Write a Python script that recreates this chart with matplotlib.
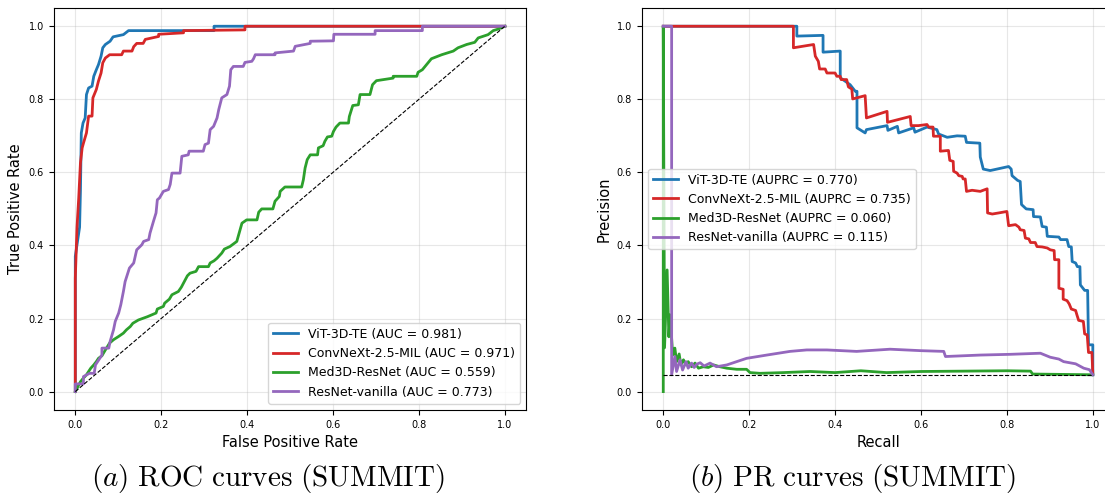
import matplotlib
matplotlib.use("Agg")
import matplotlib.pyplot as plt

plt.rcParams['mathtext.fontset'] = 'cm'

# ROC curves (fpr, tpr)
vit_fpr = [0, 0, 0.01, 0.012, 0.014, 0.018, 0.023, 0.026, 0.031, 0.039, 0.043, 0.049, 0.054,
           0.06, 0.064, 0.07, 0.081, 0.088, 0.112, 0.124, 0.323, 0.323, 1.0]
vit_tpr = [0, 0.37, 0.45, 0.55, 0.708, 0.735, 0.749, 0.813, 0.831, 0.836, 0.863, 0.881, 0.895,
           0.918, 0.941, 0.95, 0.959, 0.971, 0.977, 0.988, 0.988, 1.0, 1.0]

cnx_fpr = [0, 0, 0.004, 0.008, 0.012, 0.016, 0.019, 0.026, 0.031, 0.039, 0.041, 0.049, 0.054,
           0.06, 0.064, 0.07, 0.08, 0.108, 0.112, 0.132, 0.136, 0.143, 0.158, 0.163, 0.194,
           0.194, 0.252, 0.252, 0.395, 0.395, 1.0]
cnx_tpr = [0, 0.31, 0.45, 0.53, 0.626, 0.667, 0.68, 0.708, 0.754, 0.754, 0.804, 0.827, 0.85,
           0.872, 0.9, 0.913, 0.922, 0.922, 0.932, 0.932, 0.944, 0.953, 0.953, 0.964, 0.972,
           0.978, 0.982, 0.988, 0.99, 1.0, 1.0]

med_fpr = [0, 0.012, 0.019, 0.026, 0.036, 0.043, 0.049, 0.054, 0.062, 0.07, 0.08, 0.089, 0.101,
           0.112, 0.119, 0.128, 0.134, 0.147, 0.168, 0.188, 0.191, 0.205, 0.208, 0.219, 0.225,
           0.24, 0.247, 0.256, 0.261, 0.267, 0.281, 0.287, 0.31, 0.314, 0.323, 0.33, 0.341,
           0.347, 0.36, 0.376, 0.388, 0.399, 0.423, 0.427, 0.434, 0.46, 0.465, 0.475, 0.477,
           0.488, 0.527, 0.531, 0.535, 0.54, 0.547, 0.564, 0.566, 0.577, 0.581, 0.587, 0.597,
           0.601, 0.607, 0.616, 0.636, 0.638, 0.646, 0.659, 0.663, 0.686, 0.692, 0.701, 0.74,
           0.74, 0.795, 0.798, 0.808, 0.822, 0.829, 0.853, 0.88, 0.891, 0.911, 0.93, 0.938,
           0.961, 0.973, 0.984, 1.0]
med_tpr = [0, 0.027, 0.037, 0.046, 0.064, 0.073, 0.082, 0.091, 0.098, 0.114, 0.133, 0.142, 0.151,
           0.16, 0.169, 0.178, 0.187, 0.196, 0.205, 0.215, 0.226, 0.233, 0.242, 0.253, 0.265,
           0.274, 0.286, 0.306, 0.317, 0.324, 0.329, 0.342, 0.342, 0.352, 0.358, 0.365, 0.379,
           0.39, 0.397, 0.411, 0.461, 0.47, 0.47, 0.491, 0.5, 0.5, 0.521, 0.534, 0.548,
           0.56, 0.56, 0.58, 0.612, 0.635, 0.648, 0.648, 0.667, 0.673, 0.685, 0.697, 0.699,
           0.712, 0.724, 0.735, 0.735, 0.753, 0.783, 0.785, 0.813, 0.813, 0.84, 0.851, 0.858,
           0.863, 0.863, 0.874, 0.881, 0.901, 0.911, 0.922, 0.932, 0.941, 0.95, 0.956, 0.968,
           0.977, 0.988, 0.992, 1.0]

res_fpr = [0, 0, 0.019, 0.019, 0.033, 0.044, 0.047, 0.062, 0.062, 0.078, 0.081, 0.089, 0.093,
           0.101, 0.106, 0.112, 0.116, 0.126, 0.136, 0.143, 0.155, 0.159, 0.171, 0.174, 0.182,
           0.188, 0.191, 0.196, 0.205, 0.217, 0.221, 0.225, 0.244, 0.248, 0.263, 0.265, 0.298,
           0.302, 0.31, 0.314, 0.322, 0.33, 0.334, 0.341, 0.353, 0.359, 0.362, 0.368, 0.391,
           0.395, 0.411, 0.415, 0.419, 0.465, 0.465, 0.508, 0.512, 0.547, 0.547, 0.601, 0.602,
           0.698, 0.698, 0.808, 0.808, 1.0]
res_tpr = [0, 0.021, 0.021, 0.041, 0.05, 0.05, 0.073, 0.1, 0.119, 0.119, 0.137, 0.169, 0.192,
           0.215, 0.238, 0.274, 0.301, 0.338, 0.352, 0.388, 0.402, 0.411, 0.416, 0.434, 0.466,
           0.489, 0.525, 0.53, 0.548, 0.553, 0.567, 0.598, 0.598, 0.644, 0.648, 0.658, 0.658,
           0.676, 0.68, 0.717, 0.726, 0.749, 0.772, 0.804, 0.813, 0.836, 0.881, 0.89, 0.89,
           0.901, 0.904, 0.911, 0.922, 0.922, 0.927, 0.932, 0.945, 0.953, 0.959, 0.96, 0.978,
           0.978, 0.988, 0.988, 1.0, 1.0]

# PR curves (recall, precision)
vit_rec = [0, 0.311, 0.311, 0.372, 0.372, 0.412, 0.412, 0.435, 0.447, 0.451, 0.451, 0.47, 0.473,
           0.521, 0.523, 0.545, 0.548, 0.583, 0.586, 0.614, 0.637, 0.641, 0.661, 0.684, 0.703,
           0.706, 0.737, 0.738, 0.745, 0.761, 0.769, 0.804, 0.81, 0.812, 0.825, 0.831, 0.834,
           0.845, 0.861, 0.862, 0.878, 0.882, 0.892, 0.894, 0.921, 0.925, 0.94, 0.944, 0.95,
           0.952, 0.96, 0.964, 0.97, 0.971, 0.981, 0.988, 0.99, 1.0, 1.0]
vit_prec = [1.0, 1.0, 0.973, 0.975, 0.929, 0.932, 0.859, 0.84, 0.822, 0.822, 0.722, 0.708, 0.717,
            0.728, 0.715, 0.726, 0.708, 0.722, 0.71, 0.724, 0.717, 0.705, 0.696, 0.70, 0.699,
            0.682, 0.68, 0.642, 0.609, 0.605, 0.607, 0.616, 0.609, 0.591, 0.578, 0.575, 0.512,
            0.50, 0.498, 0.479, 0.478, 0.452, 0.45, 0.425, 0.423, 0.416, 0.416, 0.397, 0.396,
            0.356, 0.352, 0.342, 0.342, 0.292, 0.277, 0.277, 0.128, 0.128, 0.046]

cnx_rec = [0, 0.303, 0.303, 0.35, 0.354, 0.361, 0.364, 0.377, 0.381, 0.40, 0.404, 0.412, 0.414,
           0.427, 0.431, 0.439, 0.441, 0.47, 0.473, 0.521, 0.522, 0.575, 0.577, 0.594, 0.614,
           0.618, 0.628, 0.629, 0.645, 0.645, 0.664, 0.667, 0.675, 0.676, 0.684, 0.688, 0.696,
           0.698, 0.703, 0.706, 0.719, 0.738, 0.754, 0.755, 0.766, 0.781, 0.80, 0.804, 0.82,
           0.828, 0.831, 0.84, 0.843, 0.851, 0.855, 0.866, 0.87, 0.882, 0.894, 0.901, 0.91,
           0.911, 0.921, 0.921, 0.931, 0.931, 0.94, 0.945, 0.95, 0.96, 0.963, 0.967, 0.978,
           0.981, 0.987, 0.99, 0.998, 1.0]
cnx_prec = [1.0, 1.0, 0.941, 0.95, 0.918, 0.904, 0.883, 0.883, 0.872, 0.872, 0.863, 0.863, 0.854,
            0.854, 0.834, 0.828, 0.801, 0.81, 0.749, 0.767, 0.737, 0.753, 0.728, 0.728, 0.731,
            0.724, 0.724, 0.699, 0.699, 0.658, 0.66, 0.633, 0.63, 0.603, 0.598, 0.591, 0.589,
            0.582, 0.582, 0.548, 0.551, 0.548, 0.555, 0.489, 0.486, 0.489, 0.493, 0.454, 0.457,
            0.45, 0.443, 0.441, 0.42, 0.418, 0.408, 0.408, 0.397, 0.396, 0.393, 0.388, 0.386,
            0.361, 0.361, 0.283, 0.28, 0.253, 0.249, 0.24, 0.226, 0.222, 0.21, 0.195, 0.192,
            0.158, 0.155, 0.107, 0.107, 0.05]

med_rec = [0, 0, 0.003, 0.009, 0.013, 0.016, 0.022, 0.027, 0.031, 0.037, 0.041, 0.047, 0.053,
           0.058, 0.066, 0.074, 0.082, 0.093, 0.105, 0.117, 0.132, 0.148, 0.171, 0.194, 0.202,
           0.225, 0.28, 0.342, 0.40, 0.46, 0.52, 0.6, 0.7, 0.8, 0.855, 0.86, 1.0]
med_prec = [0, 1.0, 0.12, 0.333, 0.15, 0.21, 0.10, 0.119, 0.082, 0.103, 0.073, 0.087, 0.073,
            0.082, 0.068, 0.078, 0.064, 0.068, 0.066, 0.073, 0.068, 0.064, 0.061, 0.061, 0.052,
            0.05, 0.052, 0.055, 0.052, 0.057, 0.052, 0.055, 0.056, 0.057, 0.056, 0.048, 0.046]

res_rec = [0, 0.0195, 0.0195, 0.027, 0.031, 0.039, 0.045, 0.053, 0.058, 0.066, 0.072, 0.078,
           0.086, 0.095, 0.109, 0.124, 0.148, 0.171, 0.194, 0.241, 0.295, 0.334, 0.381, 0.45,
           0.528, 0.60, 0.653, 0.657, 0.738, 0.808, 0.878, 0.901, 0.921, 0.932, 0.96, 0.979,
           0.992, 1.0]
res_prec = [1.0, 1.0, 0.046, 0.096, 0.055, 0.087, 0.059, 0.082, 0.064, 0.078, 0.066, 0.075,
            0.079, 0.07, 0.078, 0.068, 0.073, 0.082, 0.091, 0.10, 0.11, 0.114, 0.114, 0.11,
            0.116, 0.112, 0.11, 0.096, 0.10, 0.102, 0.105, 0.094, 0.089, 0.082, 0.076, 0.064,
            0.06, 0.046]

auc = {'ViT-3D-TE': 0.981, 'ConvNeXt-2.5-MIL': 0.971, 'Med3D-ResNet': 0.559, 'ResNet-vanilla': 0.773}
auprc = {'ViT-3D-TE': 0.770, 'ConvNeXt-2.5-MIL': 0.735, 'Med3D-ResNet': 0.060, 'ResNet-vanilla': 0.115}
pos_rate = 0.046

colors = {'ViT-3D-TE': 'tab:blue', 'ConvNeXt-2.5-MIL': 'tab:red',
          'Med3D-ResNet': 'tab:green', 'ResNet-vanilla': 'tab:purple'}

roc = {'ViT-3D-TE': (vit_fpr, vit_tpr), 'ConvNeXt-2.5-MIL': (cnx_fpr, cnx_tpr),
       'Med3D-ResNet': (med_fpr, med_tpr), 'ResNet-vanilla': (res_fpr, res_tpr)}
pr = {'ViT-3D-TE': (vit_rec, vit_prec), 'ConvNeXt-2.5-MIL': (cnx_rec, cnx_prec),
      'Med3D-ResNet': (med_rec, med_prec), 'ResNet-vanilla': (res_rec, res_prec)}

fig = plt.figure(figsize=(11.05, 4.98), dpi=100)
ax1 = fig.add_axes([0.0487, 0.177, 0.4276, 0.807])
ax2 = fig.add_axes([0.5808, 0.177, 0.4276, 0.807])

# ROC
for name in roc:
    x, y = roc[name]
    ax1.plot(x, y, color=colors[name], lw=2, label=f'{name} (AUC = {auc[name]:.3f})')
ax1.plot([0, 1], [0, 1], 'k--', lw=0.8)
ax1.set_xlabel('False Positive Rate', fontsize=10.5)
ax1.set_ylabel('True Positive Rate', fontsize=10.5)
ax1.legend(loc='lower right', fontsize=9)
ax1.grid(True, alpha=0.3)
ax1.tick_params(labelsize=7)

# PR
for name in pr:
    x, y = pr[name]
    ax2.plot(x, y, color=colors[name], lw=2, label=f'{name} (AUPRC = {auprc[name]:.3f})')
ax2.plot([0, 1], [pos_rate, pos_rate], 'k--', lw=0.8)
ax2.set_xlabel('Recall', fontsize=10.5)
ax2.set_ylabel('Precision', fontsize=10.5)
ax2.legend(loc='center left', fontsize=9)
ax2.grid(True, alpha=0.3)
ax2.tick_params(labelsize=7)

fig.text(0.2425, 0.04, r'$(a)\ \mathrm{ROC\ curves\ (SUMMIT)}$', ha='center', va='center', fontsize=21)
fig.text(0.772, 0.04, r'$(b)\ \mathrm{PR\ curves\ (SUMMIT)}$', ha='center', va='center', fontsize=21)

fig.savefig('out.png', dpi=100)
